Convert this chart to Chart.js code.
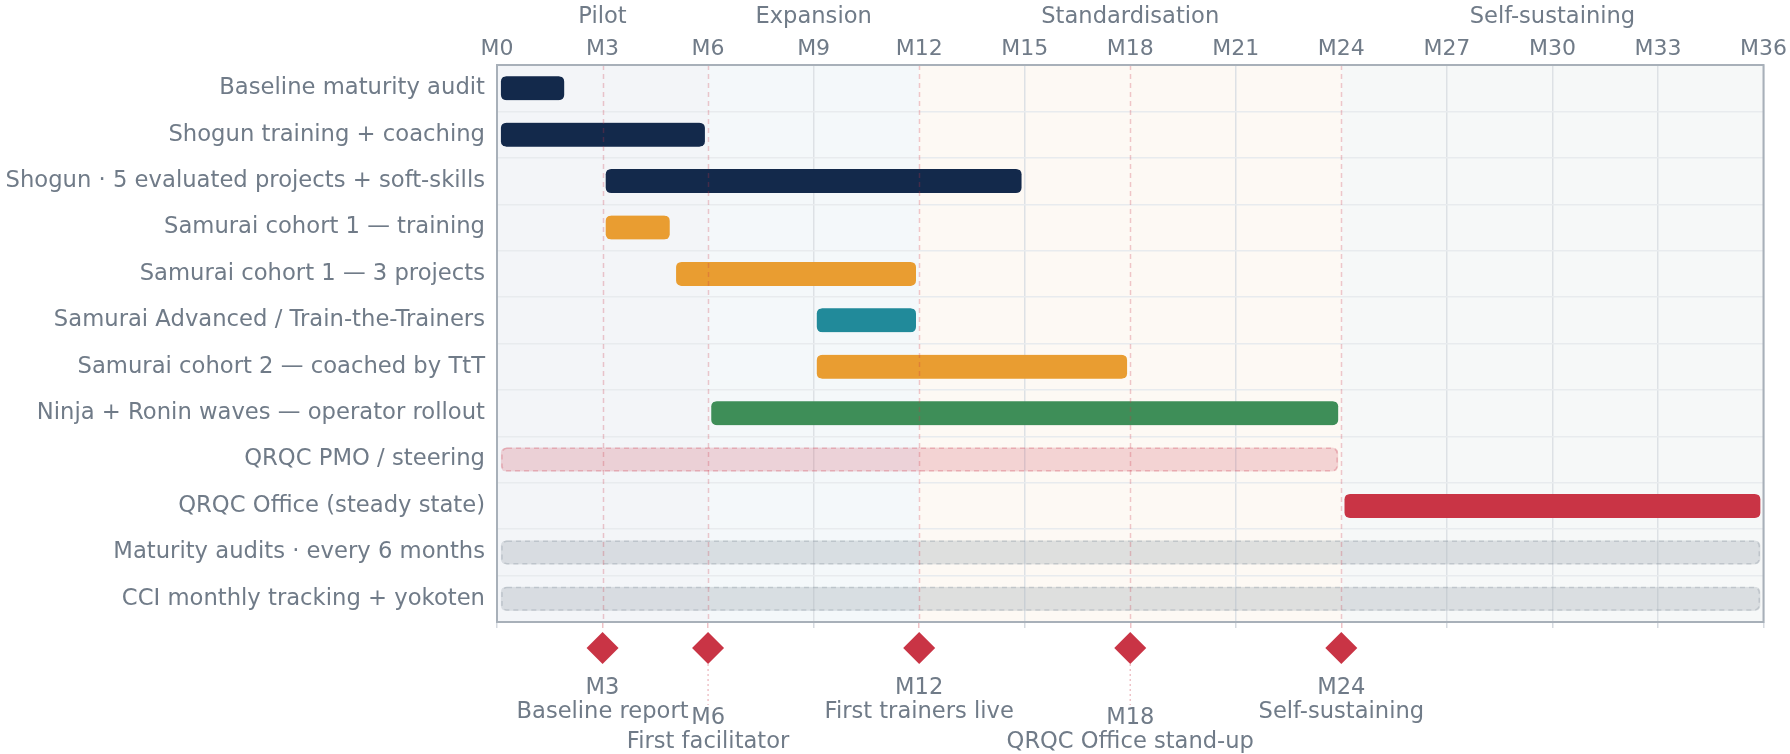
<!DOCTYPE html>
<html>
<head>
<meta charset="utf-8">
<script src="https://cdn.jsdelivr.net/npm/chart.js@4.4.0/dist/chart.umd.min.js"></script>
<style>
  html, body { margin: 0; padding: 0; background: #ffffff; }
  #wrap { position: relative; width: 1790px; height: 754px; }
</style>
</head>
<body>
<div id="wrap"><canvas id="roadmap"></canvas></div>
<script>
// Workstreams, top to bottom
const tasks = [
    'Baseline maturity audit',
    'Shogun training + coaching',
    'Shogun · 5 evaluated projects + soft-skills',
    'Samurai cohort 1 — training',
    'Samurai cohort 1 — 3 projects',
    'Samurai Advanced / Train-the-Trainers',
    'Samurai cohort 2 — coached by TtT',
    'Ninja + Ronin waves — operator rollout',
    'QRQC PMO / steering',
    'QRQC Office (steady state)',
    'Maturity audits · every 6 months',
    'CCI monthly tracking + yokoten'
];
const taskStart = [0, 0, 3, 3, 5, 9, 9, 6, 0, 24, 0, 0];
const taskEnd   = [2, 6, 15, 5, 12, 12, 18, 24, 24, 36, 36, 36];
const taskColor = ['#13294b', '#13294b', '#13294b', '#e99d31', '#e99d31', '#218a9a',
                   '#e99d31', '#3e8e58', 'rgba(205,60,78,0.2)', '#c93445',
                   'rgba(160,170,180,0.33)', 'rgba(160,170,180,0.33)'];
const taskDashed = [false, false, false, false, false, false, false, false, true, false, true, true];
const dashColor  = { 8: 'rgba(215,110,125,0.4)', 10: 'rgba(150,160,170,0.4)', 11: 'rgba(150,160,170,0.4)' };

// Month axis
const monthTicks = [0, 3, 6, 9, 12, 15, 18, 21, 24, 27, 30, 33, 36];

// Phases
const phases     = ['Pilot', 'Expansion', 'Standardisation', 'Self-sustaining'];
const phaseStart = [0, 6, 12, 24];
const phaseEnd   = [6, 12, 24, 36];
const phaseFill  = ['#f3f5f8', '#f4f8fa', '#fdf9f4', '#f6f8f8'];

// Milestones
const milestoneMonth = [3, 6, 12, 18, 24];
const milestoneLabel = ['Baseline report', 'First facilitator', 'First trainers live', 'QRQC Office stand-up', 'Self-sustaining'];
const milestoneLow   = [false, true, false, true, false];

const FONT = 'DejaVu Sans';
const TEXT = '#707b88';
const RED = '#c93445';
const INSET = 3.5;

const isMilestone = v => milestoneMonth.includes(v);

// phase shading behind everything
const phaseBands = {
    id: 'phaseBands',
    beforeDraw(chart) {
        const { ctx, chartArea: a, scales: { x } } = chart;
        ctx.save();
        phaseStart.forEach((s, i) => {
            const x0 = x.getPixelForValue(s);
            const x1 = x.getPixelForValue(phaseEnd[i]);
            ctx.fillStyle = phaseFill[i];
            ctx.fillRect(x0, a.top, x1 - x0, a.bottom - a.top);
        });
        ctx.restore();
    }
};

// dashed outlines, milestone lines, plot frame
const overlays = {
    id: 'overlays',
    afterDatasetsDraw(chart) {
        const { ctx, chartArea: a, scales: { x } } = chart;
        const meta = chart.getDatasetMeta(0);
        ctx.save();

        meta.data.forEach((bar, i) => {
            if (!taskDashed[i]) return;
            const p = bar.getProps(['x', 'y', 'base', 'height'], true);
            const left = Math.min(p.x, p.base) + INSET;
            const right = Math.max(p.x, p.base) - INSET;
            ctx.beginPath();
            ctx.roundRect(left + 0.75, p.y - p.height / 2 + 0.75, right - left - 1.5, p.height - 1.5, 5);
            ctx.setLineDash([5, 4]);
            ctx.lineWidth = 1.5;
            ctx.strokeStyle = dashColor[i];
            ctx.stroke();
        });

        ctx.setLineDash([5, 4]);
        ctx.lineWidth = 1.5;
        ctx.strokeStyle = 'rgba(200,52,68,0.26)';
        milestoneMonth.forEach(m => {
            const px = Math.round(x.getPixelForValue(m)) + 0.5;
            ctx.beginPath();
            ctx.moveTo(px, a.top);
            ctx.lineTo(px, a.bottom);
            ctx.stroke();
        });

        ctx.setLineDash([]);
        ctx.lineWidth = 2;
        ctx.strokeStyle = '#a8b0b9';
        ctx.strokeRect(a.left, a.top, a.right - a.left, a.bottom - a.top);
        ctx.restore();
    },
    afterDraw(chart) {
        const { ctx, chartArea: a, scales: { x } } = chart;
        ctx.save();
        milestoneMonth.forEach((m, i) => {
            const px = x.getPixelForValue(m);
            const cy = a.bottom + 26;
            const low = milestoneLow[i] ? 30 : 0;

            if (milestoneLow[i]) {
                ctx.setLineDash([2, 3]);
                ctx.lineWidth = 1.5;
                ctx.strokeStyle = 'rgba(200,52,68,0.3)';
                ctx.beginPath();
                ctx.moveTo(px, cy + 16);
                ctx.lineTo(px, a.bottom + 83);
                ctx.stroke();
                ctx.setLineDash([]);
            }

            ctx.fillStyle = RED;
            ctx.beginPath();
            ctx.moveTo(px - 16, cy);
            ctx.lineTo(px, cy - 16);
            ctx.lineTo(px + 16, cy);
            ctx.lineTo(px, cy + 16);
            ctx.closePath();
            ctx.fill();

            ctx.fillStyle = TEXT;
            ctx.font = '22.6px "' + FONT + '"';
            ctx.textAlign = 'center';
            ctx.textBaseline = 'middle';
            ctx.fillText('M' + m, px, a.bottom + 66 + low);
            ctx.fillText(milestoneLabel[i], px, a.bottom + 90 + low);
        });
        ctx.restore();
    }
};

const ctx = document.getElementById('roadmap').getContext('2d');
new Chart(ctx, {
    type: 'bar',
    data: {
        labels: tasks,
        datasets: [{
            data: tasks.map((t, i) => [taskStart[i], taskEnd[i]]),
            backgroundColor: taskColor,
            borderColor: 'rgba(0,0,0,0)',
            borderWidth: { left: INSET, right: INSET, top: 0, bottom: 0 },
            borderSkipped: false,
            borderRadius: 9,
            barThickness: 24,
            xAxisID: 'x',
            yAxisID: 'y'
        }]
    },
    options: {
        indexAxis: 'y',
        responsive: true,
        maintainAspectRatio: false,
        animation: false,
        layout: { padding: { top: 0, right: 25, bottom: 126, left: 0 } },
        plugins: {
            legend: { display: false },
            tooltip: { enabled: false }
        },
        scales: {
            x: {
                type: 'linear',
                position: 'top',
                min: 0,
                max: 36,
                afterBuildTicks: s => { s.ticks = monthTicks.map(v => ({ value: v })); },
                afterFit: s => { s.height = 30; },
                ticks: {
                    autoSkip: false,
                    maxRotation: 0,
                    padding: 3,
                    color: TEXT,
                    font: { family: FONT, size: 22 },
                    callback: v => 'M' + v
                },
                grid: {
                    drawTicks: false,
                    lineWidth: 1.5,
                    color: c => (c.tick && isMilestone(c.tick.value)) ? 'rgba(0,0,0,0)' : '#dde1e5'
                },
                border: { display: false }
            },
            xPhase: {
                type: 'linear',
                position: 'top',
                weight: 1,
                min: 0,
                max: 36,
                afterBuildTicks: s => { s.ticks = phaseStart.map((v, i) => ({ value: (v + phaseEnd[i]) / 2 })); },
                afterFit: s => { s.height = 35; },
                ticks: {
                    autoSkip: false,
                    maxRotation: 0,
                    padding: 4,
                    color: TEXT,
                    font: { family: FONT, size: 22.6 },
                    callback: (v, i) => phases[i]
                },
                grid: { display: false, drawTicks: false },
                border: { display: false }
            },
            xb: {
                type: 'linear',
                position: 'bottom',
                min: 0,
                max: 36,
                afterBuildTicks: s => { s.ticks = monthTicks.map(v => ({ value: v })); },
                afterFit: s => { s.height = 6; },
                ticks: { display: false },
                grid: {
                    drawOnChartArea: false,
                    drawTicks: true,
                    tickLength: 6,
                    lineWidth: 1.5,
                    tickColor: c => (c.tick && isMilestone(c.tick.value)) ? 'rgba(200,52,68,0.3)' : '#d5dae0'
                },
                border: { display: false }
            },
            y: {
                afterFit: s => { s.width = 497; },
                ticks: {
                    padding: 12,
                    color: TEXT,
                    font: { family: FONT, size: 22.7 }
                },
                grid: {
                    drawTicks: false,
                    lineWidth: 1.5,
                    color: '#e8ebee'
                },
                border: { display: false }
            }
        }
    },
    plugins: [phaseBands, overlays]
});
</script>
</body>
</html>
